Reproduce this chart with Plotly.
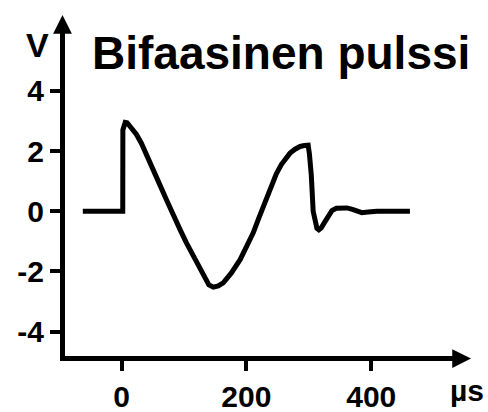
import plotly.graph_objects as go

# Pulse data (time in µs, voltage in V)
time_us = [-62, 2, 2.2, 3.5, 6, 9, 13, 18, 24, 32, 40, 50, 62, 72, 83, 94, 104, 115,
           126, 133, 140, 147, 155, 163, 176, 190, 200, 211, 219, 227, 238, 248, 256,
           263, 270, 278, 286, 293, 299, 301, 304, 307, 310, 313, 316, 320, 325, 331,
           337, 344, 352, 361, 370, 378, 385, 395, 409, 462]
volts = [0, 0, 2.7, 2.88, 2.95, 2.94, 2.85, 2.72, 2.55, 2.25, 1.85, 1.4, 0.85, 0.38,
         -0.17, -0.62, -1.05, -1.5, -1.94, -2.25, -2.45, -2.52, -2.48, -2.38, -2.05,
         -1.61, -1.2, -0.72, -0.28, 0.16, 0.72, 1.24, 1.55, 1.76, 1.93, 2.06, 2.15,
         2.18, 2.19, 1.9, 1.2, 0.0, -0.4, -0.57, -0.62, -0.55, -0.38, -0.15, 0.02,
         0.1, 0.12, 0.11, 0.06, 0.0, -0.05, -0.03, 0, 0]

x_tickvals = [0, 200, 400]
x_ticktext = ["0", "200", "400"]
y_tickvals = [-4, -2, 0, 2, 4]
y_ticktext = ["-4", "-2", "0", "2", "4"]

title_text = "Bifaasinen pulssi"
y_unit = "V"
x_unit = "µs"

W, H = 488, 412
L, R, T, B = 65, 462, 25, 356.5
LW = 5

FONT = "Liberation Sans, Arial, sans-serif"

fig = go.Figure()
fig.add_trace(go.Scatter(
    x=time_us, y=volts, mode="lines",
    line=dict(color="black", width=5, shape="linear"),
    hoverinfo="skip", showlegend=False,
))

axis_common = dict(
    showline=True, linewidth=LW, linecolor="black",
    ticks="outside", ticklen=10, tickwidth=4, tickcolor="black",
    showgrid=False, zeroline=False, automargin=False,
    tickfont=dict(family=FONT, size=30, color="black", weight="bold"),
    fixedrange=True,
)

fig.update_xaxes(range=[-90.5, 545.4], tickmode="array", tickvals=x_tickvals,
                 ticktext=x_ticktext, **axis_common)
fig.update_yaxes(range=[-4.81, 6.186], tickmode="array", tickvals=y_tickvals,
                 ticktext=y_ticktext, **axis_common)


def px_to_paper_x(px):
    return (px - L) / (R - L)


def px_to_paper_y(py):
    return (B - py) / (B - T)


annotations = [
    # arrowhead on y axis
    dict(x=0, y=1, xref="paper", yref="paper", xshift=-LW / 2, yshift=(T - 15),
         ax=0, ay=25, axref="pixel", ayref="pixel", text="", showarrow=True,
         arrowhead=2, arrowsize=0.75, arrowwidth=LW, arrowcolor="black", standoff=0),
    # arrowhead on x axis
    dict(x=1, y=0, xref="paper", yref="paper", xshift=(471 - R), yshift=-LW / 2,
         ax=-25, ay=0, axref="pixel", ayref="pixel", text="", showarrow=True,
         arrowhead=2, arrowsize=0.75, arrowwidth=LW, arrowcolor="black", standoff=0),
    # title
    dict(x=px_to_paper_x(90), y=px_to_paper_y(53), xref="paper", yref="paper",
         xanchor="left", yanchor="middle", text=title_text, showarrow=False,
         font=dict(family=FONT, size=46, color="black", weight="bold")),
    # y unit
    dict(x=px_to_paper_x(37), y=px_to_paper_y(45), xref="paper", yref="paper",
         xanchor="center", yanchor="middle", text=y_unit, showarrow=False,
         font=dict(family=FONT, size=34, color="black", weight="bold")),
    # x unit
    dict(x=px_to_paper_x(467), y=px_to_paper_y(391), xref="paper", yref="paper",
         xanchor="center", yanchor="middle", text=x_unit, showarrow=False,
         font=dict(family=FONT, size=30, color="black", weight="bold")),
]

fig.update_layout(
    width=W, height=H,
    margin=dict(l=L, r=W - R, t=T, b=H - B, pad=0, autoexpand=False),
    paper_bgcolor="white", plot_bgcolor="white",
    annotations=annotations,
    showlegend=False,
)

fig.write_html(
    "out.html",
    config={"displayModeBar": False},
    post_script="document.body.style.margin='0';document.body.style.overflow='hidden';",
)
